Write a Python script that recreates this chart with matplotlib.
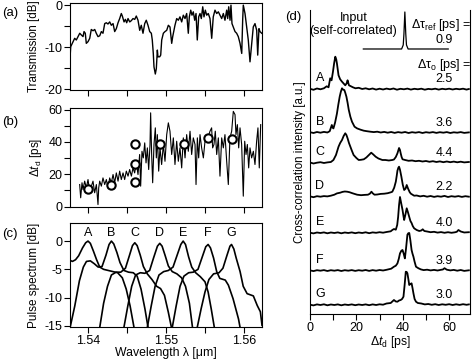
import matplotlib
matplotlib.use('Agg')
import matplotlib.pyplot as plt
from matplotlib.ticker import MultipleLocator

plt.rcParams['font.family'] = ['Liberation Sans', 'DejaVu Sans']
plt.rcParams['mathtext.fontset'] = 'custom'
plt.rcParams['mathtext.rm'] = 'Liberation Sans'
plt.rcParams['mathtext.it'] = 'Liberation Sans:italic'
plt.rcParams['axes.unicode_minus'] = False
plt.rcParams['font.size'] = 9

# (a) transmission, wavelength in nm
wl_a = [1537.69, 1537.78, 1538.08, 1538.29, 1538.50, 1538.72, 1538.94, 1539.14, 1539.36, 1539.49,
        1539.65, 1539.78, 1540.00, 1540.22, 1540.42, 1540.64, 1540.86, 1541.06, 1541.28, 1541.50,
        1541.71, 1541.92, 1542.14, 1542.35, 1542.56, 1542.78, 1542.99, 1543.21, 1543.42, 1543.63,
        1543.85, 1544.06, 1544.27, 1544.40, 1544.62, 1544.79, 1544.96, 1545.13, 1545.35, 1545.55,
        1545.77, 1545.99, 1546.19, 1546.41, 1546.63, 1546.83, 1547.05, 1547.27, 1547.47, 1547.69,
        1547.91, 1548.12, 1548.24, 1548.37, 1548.46, 1548.63, 1548.76, 1548.89, 1548.97, 1549.19,
        1549.32, 1549.45, 1549.66, 1549.87, 1550.09, 1550.30, 1550.51, 1550.73, 1550.86, 1551.15,
        1551.37, 1551.58, 1551.79, 1552.01, 1552.22, 1552.44, 1552.65, 1552.86, 1552.99, 1553.17,
        1553.33, 1553.50, 1553.68, 1553.85, 1554.01, 1554.19, 1554.36, 1554.53, 1554.71, 1554.87,
        1555.04, 1555.22, 1555.42, 1555.64, 1555.86, 1556.06, 1556.28, 1556.50, 1556.71, 1556.92,
        1557.14, 1557.35, 1557.56, 1557.78, 1557.91, 1558.04, 1558.21, 1558.33, 1558.46, 1558.63,
        1558.85, 1559.06, 1559.27, 1559.49, 1559.71, 1559.83, 1559.91, 1560.13, 1560.35, 1560.55,
        1560.77, 1560.99, 1561.19, 1561.41, 1561.63, 1561.76, 1561.92, 1562.05, 1562.27]
trans_db = [-12.7, -9.9, -8.7, -7.9, -8.3, -7.5, -6.7, -7.1, -7.5, -6.3,
            -6.7, -9.1, -8.7, -7.9, -5.8, -6.1, -5.8, -6.7, -7.5, -7.3,
            -6.3, -6.7, -4.4, -4.2, -4.5, -4.0, -4.8, -4.4, -6.3, -5.6,
            -4.2, -3.2, -2.0, -2.6, -4.0, -3.4, -4.2, -3.2, -4.0, -3.7,
            -3.2, -3.4, -2.6, -3.6, -6.0, -4.8, -6.7, -4.4, -3.6, -4.8,
            -6.3, -6.7, -8.3, -11.5, -14.7, -16.4, -15.1, -10.7, -12.3, -12.3,
            -11.9, -8.3, -6.7, -6.3, -6.0, -4.8, -5.2, -9.1, -7.5, -4.8,
            -3.2, -3.6, -2.8, -4.0, -2.4, -3.2, -2.0, -6.7, -2.8, -1.2,
            -2.4, -1.6, -3.6, -2.0, -8.3, -2.8, -2.0, -3.2, -0.4, -2.8,
            -1.2, -2.4, -2.0, -3.2, -7.9, -2.8, -1.2, -2.0, -1.6, -2.4,
            -3.2, -2.0, -3.6, -1.2, -3.2, -0.4, -3.6, 0.0, -4.4, -5.2,
            -6.3, -6.7, -7.5, -9.1, -11.5, -3.6, 0.0, -2.0, -5.2, -8.3,
            -13.5, -9.1, -5.2, -4.4, -6.0, -11.9, -5.6, -6.3, -6.7]

# (b) delay trace, wavelength in nm
wl_b = [1538.93, 1539.06, 1539.23, 1539.36, 1539.57, 1539.79, 1540.00, 1540.21, 1540.43, 1540.64,
        1540.85, 1541.07, 1541.28, 1541.37, 1541.50, 1541.71, 1541.92, 1542.14, 1542.35, 1542.56,
        1542.78, 1542.99, 1543.21, 1543.42, 1543.63, 1543.85, 1544.06, 1544.27, 1544.49, 1544.70,
        1544.91, 1545.13, 1545.34, 1545.56, 1545.77, 1545.98, 1546.20, 1546.41, 1546.62, 1546.75,
        1546.92, 1547.09, 1547.27, 1547.44, 1547.61, 1547.78, 1547.95, 1548.03, 1548.16, 1548.29,
        1548.46, 1548.63, 1548.76, 1548.89, 1549.06, 1549.23, 1549.44, 1549.66, 1549.87, 1550.09,
        1550.30, 1550.51, 1550.73, 1550.94, 1551.15, 1551.37, 1551.58, 1551.79, 1552.01, 1552.22,
        1552.44, 1552.65, 1552.86, 1553.08, 1553.29, 1553.50, 1553.72, 1553.85, 1554.02, 1554.19,
        1554.36, 1554.57, 1554.79, 1555.00, 1555.21, 1555.43, 1555.64, 1555.85, 1555.98, 1556.15,
        1556.32, 1556.50, 1556.71, 1556.92, 1557.14, 1557.35, 1557.56, 1557.78, 1557.99, 1558.20,
        1558.42, 1558.63, 1558.85, 1558.97, 1559.15, 1559.32, 1559.49, 1559.70, 1559.91, 1560.09,
        1560.26, 1560.43, 1560.60, 1560.77, 1560.98, 1561.20, 1561.41, 1561.62, 1561.79, 1561.96,
        1562.14]
delay_ps = [13.6, 5.4, 14.7, 10.5, 15.7, 11.5, 16.7, 9.5, 12.6, 15.7,
            8.5, 13.6, 1.2, 11.5, 15.7, 12.6, 17.7, 13.6, 16.7, 11.5,
            17.7, 14.7, 19.8, 14.7, 20.8, 15.7, 21.9, 16.7, 20.8, 16.7,
            21.9, 18.8, 22.9, 18.8, 23.9, 20.8, 27.0, 19.8, 32.2, 12.6,
            34.2, 30.1, 39.4, 27.0, 36.3, 22.9, 38.4, 58.0, 32.2, 14.7,
            38.4, 48.7, 30.1, 44.5, 21.9, 36.3, 26.0, 38.4, 28.0, 44.5,
            51.8, 46.6, 32.2, 42.5, 26.0, 40.4, 28.0, 36.3, 23.9, 42.5,
            30.1, 44.5, 34.2, 46.6, 32.2, 42.5, 38.4, 13.6, 42.5, 30.1,
            44.5, 36.3, 30.1, 40.4, 42.5, 43.5, 46.6, 48.7, 36.3, 38.4,
            46.6, 32.2, 42.5, 18.8, 42.5, 36.3, 44.5, 28.0, 13.6, 42.5,
            46.6, 58.9, 56.9, 44.5, 50.7, 36.3, 48.7, 38.4, 6.4, 40.4,
            32.2, 38.4, 23.9, 36.3, 30.1, 34.2, 26.0, 40.4, 48.7, 23.9,
            50.7]

# circles: peak delays of A..G
circ_wl = [1540.04, 1542.95, 1546.03, 1546.03, 1546.03, 1549.23, 1552.35, 1555.42, 1558.47]
circ_ps = [10.9, 13.6, 38.4, 26.4, 15.0, 38.4, 38.4, 42.2, 41.9]

# (c) pulse spectra (nm, dB)
spec_names = ['A', 'B', 'C', 'D', 'E', 'F', 'G']
spec_peaks = [1540.0, 1543.0, 1546.0, 1549.2, 1552.2, 1555.4, 1558.4]
spec_A = [(1537.69, -3.4), (1538.0, -3.6), (1538.4, -3.3), (1538.8, -2.6), (1539.3, -1.2), (1539.7, -0.3),
          (1540.0, 0.0), (1540.3, -0.4), (1540.7, -1.8), (1541.1, -3.3), (1541.5, -4.6), (1542.0, -5.0),
          (1542.6, -5.2), (1543.2, -5.4), (1543.8, -5.6), (1544.4, -6.5), (1544.9, -8.5), (1545.4, -11.5),
          (1545.9, -15.3)]
spec_B = [(1537.7, -15.3), (1538.3, -11.5), (1538.9, -7.0), (1539.4, -4.6), (1539.8, -3.6), (1540.3, -3.5),
          (1540.8, -4.0), (1541.3, -4.6), (1541.8, -4.5), (1542.3, -2.5), (1542.7, -0.6), (1543.0, 0.0),
          (1543.3, -0.5), (1543.7, -2.0), (1544.1, -3.8), (1544.6, -5.2), (1545.2, -5.5), (1545.8, -5.6),
          (1546.3, -6.2), (1546.8, -8.5), (1547.3, -12.0), (1547.7, -15.3)]
spec_C = [(1541.5, -15.3), (1542.0, -11.0), (1542.5, -8.0), (1543.0, -6.0), (1543.6, -5.5), (1544.2, -5.5),
          (1544.8, -4.8), (1545.3, -2.6), (1545.7, -0.8), (1546.0, -0.3), (1546.3, -0.8), (1546.7, -2.5),
          (1547.1, -4.5), (1547.6, -5.8), (1548.2, -6.8), (1548.8, -8.0), (1549.3, -8.4), (1549.8, -9.6),
          (1550.3, -12.6), (1550.7, -15.3)]
spec_D = [(1544.6, -15.3), (1545.1, -11.5), (1545.6, -8.0), (1546.1, -6.0), (1546.7, -5.6), (1547.3, -5.7),
          (1547.9, -5.2), (1548.4, -3.0), (1548.9, -0.9), (1549.2, -0.4), (1549.5, -0.9), (1549.9, -2.6),
          (1550.3, -4.4), (1550.8, -5.4), (1551.4, -5.8), (1552.0, -6.5), (1552.5, -8.0), (1553.0, -11.0),
          (1553.4, -15.3)]
spec_E = [(1547.6, -15.3), (1548.1, -11.5), (1548.6, -8.0), (1549.1, -6.0), (1549.7, -5.4), (1550.3, -5.2),
          (1550.9, -4.6), (1551.4, -2.6), (1551.9, -0.6), (1552.2, 0.0), (1552.5, -0.6), (1552.9, -2.8),
          (1553.3, -4.6), (1553.8, -5.6), (1554.4, -6.3), (1555.0, -7.2), (1555.4, -9.0), (1555.8, -12.0),
          (1556.2, -15.3)]
spec_F = [(1550.8, -15.3), (1551.3, -11.5), (1551.8, -8.0), (1552.3, -6.2), (1552.9, -5.6), (1553.5, -5.5),
          (1554.1, -5.0), (1554.6, -3.0), (1555.1, -1.0), (1555.4, -0.6), (1555.7, -1.2), (1556.1, -3.0),
          (1556.5, -5.4), (1556.9, -6.6), (1557.6, -6.9), (1558.0, -7.8), (1558.6, -10.2), (1559.3, -13.8),
          (1559.5, -15.3)]
spec_G = [(1554.0, -15.3), (1554.5, -12.0), (1555.0, -9.0), (1555.5, -6.8), (1556.1, -5.8), (1556.8, -5.6),
          (1557.3, -4.8), (1557.8, -2.6), (1558.2, -0.9), (1558.4, -0.6), (1558.7, -1.4), (1559.0, -3.0),
          (1559.5, -5.4), (1559.9, -8.0), (1560.4, -9.3), (1561.2, -9.7), (1561.7, -11.4), (1562.1, -12.5),
          (1562.31, -14.9)]
spectra = [spec_A, spec_B, spec_C, spec_D, spec_E, spec_F, spec_G]

# (d) cross-correlation traces (delay ps, intensity a.u.)
xc_input = [(23.0, 0.0), (30.0, 0.0), (39.5, 0.0), (40.2, 4.0), (40.5, 15.0), (40.9, 37.0), (41.3, 15.0),
            (41.6, 4.0), (42.3, 0.0), (50.0, 0.0), (59.6, 0.0)]
xc_A = [(0, 0.5), (1.5, -0.5), (3, 0.8), (4.5, 0.0), (6, 1.0), (7.2, 3.0), (8.0, 2.0), (8.7, 11.0), (9.3, 9.0),
        (9.9, 17.6), (10.4, 26.0), (10.9, 32.6), (11.3, 30.0), (11.6, 26.0), (12.3, 14.0), (13.0, 10.0),
        (13.8, 7.6), (15.2, 4.0), (15.8, 6.0), (16.2, 9.0), (16.8, 4.0), (17.4, 3.3), (18.5, 2.0), (19.6, 1.0),
        (21, 1.5), (22.5, 0.3), (24, 1.0), (25.5, 0.0), (27, 0.8), (28.5, -0.3), (30, 0.6), (31.5, -0.2),
        (33, 0.7), (34.5, 0.0), (36, 0.8), (37.5, -0.4), (39, 0.5), (40.5, 0.0), (42, 0.7), (43.5, -0.3),
        (45, 0.5), (46.5, 0.0), (48, 0.6), (49.5, -0.4), (51, 0.4), (52.5, 0.0), (54, 0.6), (55.5, -0.3),
        (57, 0.5), (58.5, 0.0), (60, 0.6), (61.5, -0.2), (63, 0.5), (64.5, 0.0), (66, 0.6), (67.5, -0.3),
        (68.5, 0.3)]
xc_B = [(0, 0.5), (1.5, -0.3), (3, 0.7), (4.5, 0.0), (6, 0.8), (7.5, 0.2), (8.5, 1.5), (9.4, 7.7), (9.8, 5.0),
        (10.1, 4.3), (10.8, 10.0), (11.6, 19.0), (12.2, 28.0), (12.8, 36.0), (13.3, 41.0), (13.8, 44.4),
        (14.3, 43.0), (14.8, 42.7), (15.2, 40.0), (15.7, 36.0), (16.2, 30.0), (16.7, 23.0), (17.4, 16.0),
        (18.1, 11.0), (19.2, 6.0), (20.3, 4.3), (21.8, 3.0), (23.2, 2.0), (24.5, 1.5), (26, 1.0), (27.5, 0.6),
        (29, 1.0), (30.5, 0.2), (32, 0.8), (33.5, 0.0), (35, 0.7), (36.5, -0.2), (38, 0.6), (39.5, 0.0),
        (41, 0.7), (42.5, -0.3), (44, 0.5), (45.5, 0.0), (47, 0.6), (48.5, -0.3), (50, 0.5), (51.5, 0.0),
        (53, 0.6), (54.5, -0.2), (56, 0.5), (57.5, 0.0), (59, 0.6), (60.5, -0.3), (62, 0.4), (63.5, 0.0),
        (65, 0.6), (66.5, -0.2), (68.5, 0.3)]
xc_C = [(0, 0.5), (1.5, -0.5), (3, 0.3), (4.5, 0.8), (6, 0.0), (7.5, 0.6), (9, 1.0), (10.1, 3.0), (11.2, 8.0),
        (12.3, 16.3), (13.0, 20.0), (13.8, 23.0), (14.5, 27.0), (15.2, 29.7), (15.7, 28.0), (16.2, 24.7),
        (16.8, 20.0), (17.4, 16.3), (18.1, 12.0), (18.8, 8.0), (20, 5.0), (21, 3.0), (22, 3.2), (23.2, 3.7),
        (24.3, 5.5), (25.4, 8.0), (26.4, 10.3), (27.3, 8.5), (28.3, 6.3), (29.5, 4.5), (31.2, 3.0), (32.5, 3.0),
        (34, 2.5), (35.5, 3.0), (36.2, 3.5), (37.0, 6.0), (37.7, 9.7), (38.4, 15.0), (38.8, 13.0), (39.1, 9.7),
        (39.5, 6.0), (39.9, 3.7), (41, 3.0), (42.5, 2.2), (44, 2.5), (45.5, 1.8), (47, 2.2), (48.5, 1.5),
        (50, 2.0), (51.5, 1.2), (53, 1.8), (54.5, 1.0), (56, 1.6), (57.5, 0.8), (59, 1.5), (60.5, 0.8),
        (62, 1.4), (63.5, 0.7), (65, 1.3), (66.5, 0.6), (68.5, 1.0)]
xc_D = [(0, 0.3), (1.5, -0.5), (3, 0.5), (4.5, 0.0), (6, 0.6), (7.5, 0.3), (9, 1.0), (10.5, 2.0), (11.6, 3.3),
        (13, 4.0), (14, 4.8), (15, 5.2), (16, 5.0), (17, 4.5), (18.5, 3.3), (20.3, 2.0), (22, 1.5), (23.5, 1.8),
        (25, 2.0), (25.8, 3.0), (26.5, 5.0), (27.0, 3.5), (27.8, 2.0), (29, 2.2), (30.5, 2.8), (32, 3.0),
        (33.5, 3.5), (35, 4.5), (35.5, 5.0), (36.3, 9.0), (37.0, 15.0), (37.4, 21.0), (37.7, 26.0), (38.1, 29.0),
        (38.4, 30.0), (38.8, 27.0), (39.4, 20.0), (40.0, 12.0), (40.6, 6.7), (41.2, 8.0), (41.7, 11.7),
        (42.3, 8.0), (43.0, 4.5), (43.5, 3.0), (44.2, 2.0), (44.9, 1.0), (46, 1.2), (47.5, 0.3), (49, 0.9),
        (50.5, 0.0), (52, 0.7), (53.5, -0.2), (55, 0.5), (56.5, 0.0), (58, 0.8), (59.5, -0.3), (61, 0.5),
        (62.5, 0.0), (64, 0.6), (65.5, -0.2), (67, 0.5), (68.5, 0.0)]
xc_E = [(0, 0.3), (1.5, -0.4), (3, 0.5), (4.5, 0.0), (6, 0.6), (7.5, -0.3), (9, 0.5), (10.5, 0.0), (12, 0.6),
        (13.5, -0.3), (15, 0.5), (16.5, 0.0), (18, 0.6), (19.5, -0.2), (21, 0.5), (22.5, 0.0), (24, 0.7),
        (25.5, -0.2), (27, 0.6), (28.5, 0.2), (30, 0.8), (31.5, 0.3), (33, 1.0), (34.8, 1.7), (35.5, 3.0),
        (36.2, 4.0), (37.0, 3.3), (37.6, 8.0), (38.0, 16.0), (38.4, 28.0), (38.8, 36.0), (39.3, 30.0),
        (39.9, 23.0), (40.3, 17.0), (40.6, 13.0), (41.1, 18.0), (41.7, 24.7), (42.2, 21.0), (42.8, 16.0),
        (43.3, 12.0), (43.8, 10.0), (44.3, 7.0), (44.9, 4.7), (46, 3.0), (47.1, 2.0), (48, 2.5), (48.6, 3.7),
        (49.3, 2.0), (50.5, 1.5), (52, 0.8), (53.5, 1.2), (55, 0.4), (56.5, 0.9), (58, 0.2), (59.5, 0.8),
        (61, 0.2), (62.5, 0.7), (63.3, 1.2), (64.0, 3.0), (65.0, 1.5), (66.5, 0.5), (68.5, 0.8)]
xc_F = [(0, 0.3), (1.5, -0.4), (3, 0.5), (4.5, 0.0), (6, 0.6), (7.5, -0.3), (9, 0.5), (10.5, 0.0), (12, 0.6),
        (13.5, -0.3), (15, 0.5), (16.5, 0.0), (18, 0.6), (19.5, -0.2), (21, 0.5), (22.5, 0.0), (24, 0.7),
        (25.5, -0.2), (27, 0.6), (28.5, 0.0), (30, 0.7), (31.5, 0.2), (33, 0.9), (35, 2.0), (36.2, 4.0),
        (37.0, 5.0), (37.7, 7.3), (38.3, 12.0), (38.8, 17.3), (39.4, 20.0), (39.9, 20.7), (40.4, 17.0),
        (40.9, 12.3), (41.4, 22.0), (42.0, 36.0), (42.4, 37.5), (42.8, 37.7), (43.3, 30.0), (43.8, 20.7),
        (44.2, 17.0), (44.6, 14.0), (45.1, 9.0), (45.7, 4.0), (46.7, 2.5), (47.8, 1.3), (49, 0.6), (50.5, 1.0),
        (52, 0.3), (53.5, 0.8), (55, 0.2), (56.5, 0.9), (57.3, 1.2), (58.0, 2.5), (59.0, 1.0), (60.5, 0.3),
        (62, 0.8), (63.5, 0.0), (65, 0.7), (66.5, -0.2), (68.5, 0.4)]
xc_G = [(0, 0.3), (1.5, -0.4), (3, 0.6), (4.5, 0.0), (6, 0.7), (7.5, -0.3), (9, 0.5), (10.5, 0.0), (12, 0.6),
        (13.5, -0.3), (15, 0.5), (16.5, 0.0), (18, 0.6), (19.5, -0.2), (21, 0.5), (22.5, 0.0), (24, 0.6),
        (25.5, -0.2), (27, 0.6), (28.5, 0.0), (30, 0.7), (31.5, 0.3), (33, 1.5), (34.8, 2.0), (35.5, 3.5),
        (36.2, 5.0), (37.0, 3.5), (37.7, 3.3), (38.4, 4.5), (39.1, 5.0), (39.7, 6.0), (40.3, 8.3), (40.8, 20.0),
        (41.3, 33.3), (41.7, 33.0), (42.0, 31.7), (42.4, 26.0), (42.8, 20.0), (43.3, 21.0), (43.8, 21.7),
        (44.2, 17.0), (44.6, 11.7), (45.1, 6.0), (45.7, 3.3), (46.5, 2.0), (48, 1.5), (49.5, 0.6), (51, 1.0),
        (52.5, 0.2), (54, 0.8), (55.5, 0.0), (57, 0.7), (58.5, 0.2), (60, 0.8), (61.5, 0.0), (63, 0.7),
        (64.5, 0.1), (66, 0.8), (67.5, 0.2), (68.5, 0.6)]
xc_traces = [xc_A, xc_B, xc_C, xc_D, xc_E, xc_F, xc_G]
xc_names = ['A', 'B', 'C', 'D', 'E', 'F', 'G']
xc_widths = ['2.5', '3.6', '4.4', '2.2', '4.0', '3.9', '3.0']

# vertical stacking of the traces in panel (d)
xc_offsets = [224.7, 181.3, 151.0, 117.3, 81.0, 43.3, 9.0]
input_offset = 265.0

fig = plt.figure(figsize=(4.72, 3.62), dpi=100)
ax_a = fig.add_axes([0.1483, 0.7514, 0.4068, 0.2403])
ax_b = fig.add_axes([0.1483, 0.4282, 0.4068, 0.2735])
ax_c = fig.add_axes([0.1483, 0.0967, 0.4068, 0.2873])
ax_d = fig.add_axes([0.6568, 0.1326, 0.3390, 0.8398])

xlim = (1.53769, 1.56231)
for ax in (ax_a, ax_b, ax_c, ax_d):
    ax.tick_params(direction='out', length=4, width=0.8, labelsize=9, pad=1.5)
    ax.tick_params(which='minor', direction='out', length=4, width=0.8)
    for s in ax.spines.values():
        s.set_linewidth(0.8)

# (a)
ax_a.plot([w / 1000 for w in wl_a], trans_db, color='black', lw=1.0)
ax_a.set_xlim(*xlim)
ax_a.set_ylim(-20.2, 0.5)
ax_a.xaxis.set_major_locator(MultipleLocator(0.005))
ax_a.set_xticklabels([])
ax_a.set_yticks([0, -10, -20])
ax_a.yaxis.set_minor_locator(MultipleLocator(5))
ax_a.set_ylabel('Transmission [dB]', fontsize=8.3, labelpad=3)

# (b)
ax_b.plot([w / 1000 for w in wl_b], delay_ps, color='black', lw=0.8)
ax_b.plot([w / 1000 for w in circ_wl], circ_ps, 'o', ms=6, mfc='white', mec='black', mew=1.5)
ax_b.set_xlim(*xlim)
ax_b.set_ylim(-0.3, 61)
ax_b.xaxis.set_major_locator(MultipleLocator(0.005))
ax_b.set_xticklabels([])
ax_b.set_yticks([0, 20, 40, 60])
ax_b.yaxis.set_minor_locator(MultipleLocator(10))
ax_b.set_ylabel('$\\Delta t_{\\rm d}$ [ps]', fontsize=8.5, labelpad=3)

# (c)
for spec in spectra:
    ax_c.plot([p[0] / 1000 for p in spec], [p[1] for p in spec], color='black', lw=1.2)
for name, pk in zip(spec_names, spec_peaks):
    ax_c.text(pk / 1000, 1.5, name, ha='center', va='center', fontsize=9)
ax_c.set_xlim(*xlim)
ax_c.set_ylim(-15.2, 3.2)
ax_c.set_xticks([1.54, 1.55, 1.56])
ax_c.set_xticklabels(['1.54', '1.55', '1.56'])
ax_c.xaxis.set_minor_locator(MultipleLocator(0.005))
ax_c.set_yticks([0, -5, -10, -15])
ax_c.set_ylabel('Pulse spectrum [dB]', fontsize=8.5, labelpad=3)
ax_c.set_xlabel('Wavelength λ [μm]', fontsize=8.8, labelpad=0)

# (d)
ax_d.plot([p[0] for p in xc_input], [input_offset + p[1] for p in xc_input], color='black', lw=0.9)
for tr, off, name, w in zip(xc_traces, xc_offsets, xc_names, xc_widths):
    ax_d.plot([p[0] for p in tr], [off + p[1] for p in tr], color='black', lw=1.3)
    ax_d.text(4.3, off + 11, name, ha='center', va='center', fontsize=9)
    ax_d.text(57.8, off + 10, w, ha='center', va='center', fontsize=9)
ax_d.text(18.7, 296, 'Input', ha='center', va='center', fontsize=9)
ax_d.text(18.7, 283, '(self-correlated)', ha='center', va='center', fontsize=9)
ax_d.text(69.5, 289, 'Δτ$_{\\rm ref}$ [ps] =', ha='right', va='center', fontsize=9)
ax_d.text(57.8, 274, '0.9', ha='center', va='center', fontsize=9)
ax_d.text(69.5, 249, 'Δτ$_{\\rm o}$ [ps] =', ha='right', va='center', fontsize=9)
ax_d.set_xlim(0, 69)
ax_d.set_ylim(0, 304)
ax_d.set_xticks([0, 20, 40, 60])
ax_d.xaxis.set_minor_locator(MultipleLocator(10))
ax_d.set_yticks([])
ax_d.spines['top'].set_visible(False)
ax_d.set_xlabel('$\\Delta t_{\\rm d}$ [ps]', fontsize=8.8, labelpad=0)
ax_d.set_ylabel('Cross-correlation intensity [a.u.]', fontsize=8.3, labelpad=3)

fig.text(0.005, 0.955, '(a)', fontsize=9.5)
fig.text(0.005, 0.655, '(b)', fontsize=9.5)
fig.text(0.005, 0.345, '(c)', fontsize=9.5)
fig.text(0.605, 0.945, '(d)', fontsize=9.5)

fig.savefig('out.png', dpi=100)
